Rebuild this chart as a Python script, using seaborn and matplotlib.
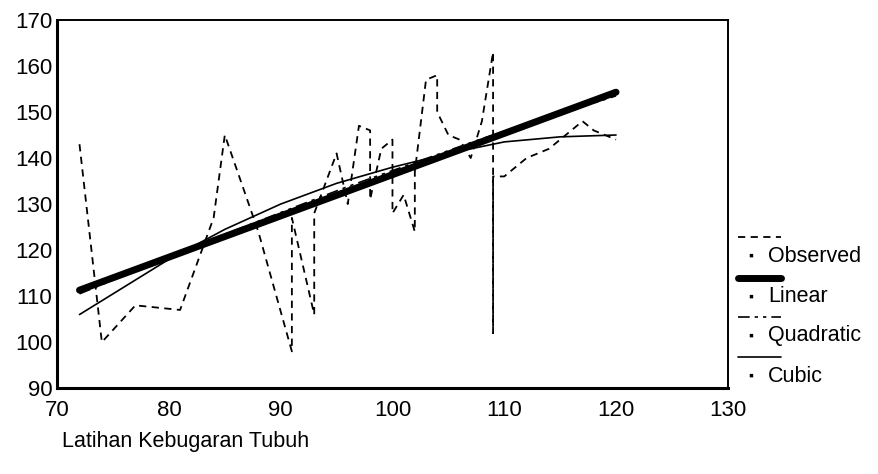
import matplotlib
matplotlib.use("Agg")
import matplotlib.pyplot as plt
import seaborn as sns
from matplotlib.lines import Line2D

# ─────────────────────────────────────────────
# DATA
# ─────────────────────────────────────────────
obs_x = [72, 74, 77, 81, 84, 85, 88, 91, 91, 93, 93, 95, 96, 97, 98, 98, 99, 100,
         100, 101, 102, 102, 103, 104, 104, 105, 106, 107, 108, 109, 109, 109,
         110, 112, 114, 117, 118, 120]
obs_y = [143, 100, 108, 107, 127, 145, 124, 98, 127, 106, 128, 141, 130, 147, 146,
         131, 142, 144, 128, 132, 124, 137, 157, 158, 150, 145, 144, 140, 148, 163,
         102, 136, 136, 140, 142, 148, 146, 144]

lin_x = [72, 120]
lin_y = [111.3, 154.3]

quad_x = [72, 84, 96, 108, 120]
quad_y = [110.5, 122.5, 133.8, 144.2, 153.5]

cub_x = [72, 76, 80, 85, 90, 95, 100, 105, 110, 115, 120]
cub_y = [106, 112, 118, 124.5, 130, 134.5, 138, 141, 143.5, 144.6, 145]

legend_labels = ["Observed", "Linear", "Quadratic", "Cubic"]
x_label = "Latihan Kebugaran Tubuh"

# ─────────────────────────────────────────────
# PLOT
# ─────────────────────────────────────────────
sns.set_style("white")
plt.rcParams["font.family"] = ["Liberation Sans", "DejaVu Sans"]

fig = plt.figure(figsize=(8.79, 4.74), dpi=100)
ax = fig.add_axes([0.065, 0.181, 0.763, 0.777])

sns.lineplot(x=obs_x, y=obs_y, estimator=None, sort=False, color="black",
             linewidth=1.3, ax=ax)
ax.lines[-1].set_dashes([4, 3])
sns.lineplot(x=lin_x, y=lin_y, estimator=None, color="black", linewidth=5, ax=ax)
sns.lineplot(x=quad_x, y=quad_y, estimator=None, color="black", linewidth=1.2, ax=ax)
ax.lines[-1].set_dashes([7, 3, 2, 3, 2, 3])
sns.lineplot(x=cub_x, y=cub_y, estimator=None, color="black", linewidth=1.2, ax=ax)

ax.set_xlim(70, 130)
ax.set_ylim(90, 170)
ax.set_xticks(range(70, 131, 10))
ax.set_yticks(range(90, 171, 10))
ax.tick_params(axis="both", direction="inout", length=5, width=2.5,
               labelsize=16, colors="black")
ax.tick_params(axis="y", pad=1)
ax.tick_params(axis="x", pad=6)
for side in ["left", "bottom"]:
    ax.spines[side].set_linewidth(2.2)
for side in ["top", "right"]:
    ax.spines[side].set_linewidth(1.4)
for sp in ax.spines.values():
    sp.set_color("black")
ax.set_xlabel("")
ax.set_ylabel("")

# legend drawn SPSS-style: line sample above, bulleted label below
styles = [dict(lw=1.3, dashes=[4, 3]), dict(lw=5, dashes=None),
          dict(lw=1.2, dashes=[7, 3, 2, 3, 2, 3]), dict(lw=1.2, dashes=None)]
line_y = [237, 278, 317, 357]
for lab, st, py in zip(legend_labels, styles, line_y):
    yf = 1 - py / 474
    ln = Line2D([738 / 879, 781 / 879], [yf, yf], transform=fig.transFigure,
                color="black", linewidth=st["lw"])
    if st["dashes"]:
        ln.set_dashes(st["dashes"])
    fig.add_artist(ln)
    fig.text(748 / 879, 1 - (py + 19) / 474, "\u25aa", fontsize=10,
             ha="left", va="center", color="black")
    fig.text(768 / 879, 1 - (py + 19) / 474, lab, fontsize=15.5,
             ha="left", va="center", color="black")

fig.text(62 / 879, 1 - 441 / 474, x_label, fontsize=15.5, ha="left",
         va="center", color="black")

fig.savefig("out.png", dpi=100)
plt.close(fig)
